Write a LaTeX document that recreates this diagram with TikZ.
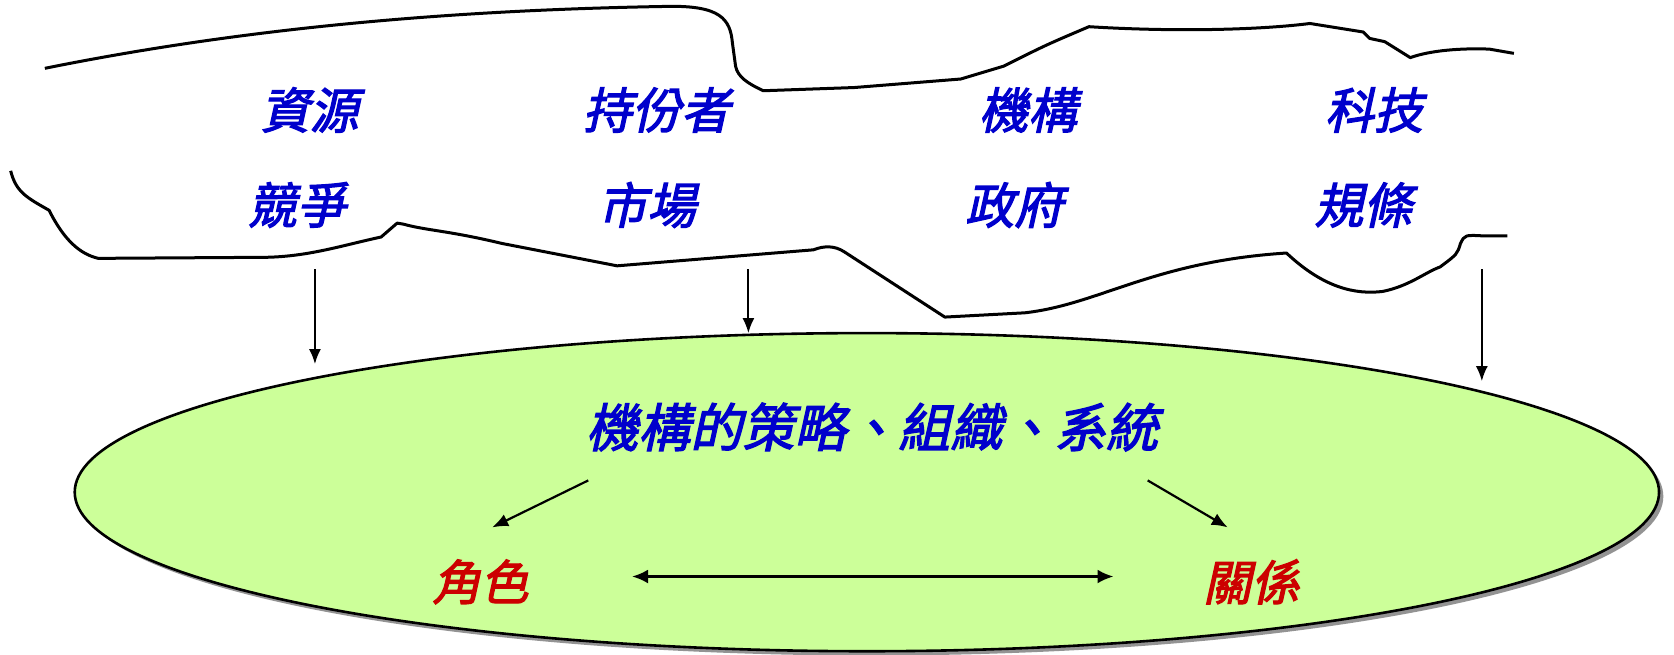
\documentclass[tikz,border=0pt]{standalone}
\usepackage{fontspec}
\newfontfamily\cjk[FakeSlant=0.22,FakeBold=2.5]{Noto Sans CJK TC}
\usetikzlibrary{arrows.meta}
\definecolor{tblue}{RGB}{0,0,204}
\definecolor{tred}{RGB}{204,0,0}
\definecolor{lgreen}{RGB}{204,255,153}
\tikzset{
  lbl/.style={font=\cjk\fontsize{49}{49}\selectfont, text=tblue, inner sep=0pt},
  mlbl/.style={font=\cjk\fontsize{52}{52}\selectfont, text=tblue, inner sep=0pt},
  rlbl/.style={font=\cjk\fontsize{48}{48}\selectfont, text=tred, inner sep=0pt},
  outline/.style={line width=3pt, line join=round},
  arr/.style={line width=1.8pt, -{Latex[length=15pt,width=12pt]}},
  iarr/.style={line width=2.2pt, -{Latex[length=16pt,width=13pt]}},
  darr/.style={line width=2.6pt, {Latex[length=16pt,width=14pt]}-{Latex[length=16pt,width=14pt]}}
}
\begin{document}
\begin{tikzpicture}[x=1.0676pt,y=-1.0676pt]
\useasboundingbox (0,0) rectangle (1568,613.5);
% cloud outline
\draw[outline] (42,64) .. controls (250,22) and (450,9) .. (625,6) .. controls (675,5) and (684,18) .. (686,40) -- (689,62) .. controls (691,72) and (700,78) .. (715,85) -- (800,82) -- (900,74) -- (940,62) .. controls (980,42) .. (1020,25) .. controls (1100,30) and (1180,28) .. (1227,22) -- (1277,30) -- (1283,36) -- (1297,39) -- (1321,54) .. controls (1340,47) and (1370,45) .. (1395,46) -- (1418,50);
\draw[outline] (10,160) .. controls (15,180) and (25,185) .. (46,197) .. controls (60,225) and (75,238) .. (92,242) -- (250,241) .. controls (290,240) and (320,230) .. (357,222) -- (372,209) -- (378,210) .. controls (400,216) and (420,216) .. (470,228) -- (578,249) -- (762,234) .. controls (772,230) and (782,230) .. (791,236) -- (885,297) -- (960,293) .. controls (1030,285) and (1080,245) .. (1205,237) .. controls (1240,270) and (1270,276) .. (1295,273) .. controls (1320,268) and (1335,255) .. (1349,250) .. controls (1365,238) .. (1368,228) .. controls (1372,220) .. (1390,221) -- (1412,221);
% labels in cloud
\node[lbl] (res) at (290,103) {資源};
\node[lbl] (stake) at (615,103) {持份者};
\node[lbl] (inst) at (963,103) {機構};
\node[lbl] (tech) at (1287,103) {科技};
\node[lbl] (comp) at (278,192) {競爭};
\node[lbl] (mkt) at (606,192) {市場};
\node[lbl] (gov) at (950,192) {政府};
\node[lbl] (reg) at (1277,192) {規條};
% ellipse with shadow
\fill[gray!85] (816,465) ellipse [x radius=742, y radius=149];
\draw[line width=2.6pt, fill=lgreen] (812,461) ellipse [x radius=742, y radius=149];
\node[mlbl] (core) at (817,400) {機構的策略、組織、系統};
\node[rlbl] (role) at (450,545) {角色};
\node[rlbl] (rel) at (1172,545) {關係};
% arrows from cloud
\coordinate (s1) at (295,252); \coordinate (e1) at (295,341);
\coordinate (s2) at (701,252); \coordinate (e2) at (701,312);
\coordinate (s3) at (1388,252); \coordinate (e3) at (1388,357);
\draw[arr] (s1) -- (e1);
\draw[arr] (s2) -- (e2);
\draw[arr] (s3) -- (e3);
% inner arrows
\coordinate (d1s) at (551,450); \coordinate (d1e) at (461,494);
\coordinate (d2s) at (1075,450); \coordinate (d2e) at (1150,494);
\draw[iarr] (d1s) -- (d1e);
\draw[iarr] (d2s) -- (d2e);
\coordinate (h1) at (592,540); \coordinate (h2) at (1043,540);
\draw[darr] (h1) -- (h2);
\end{tikzpicture}
\end{document}
